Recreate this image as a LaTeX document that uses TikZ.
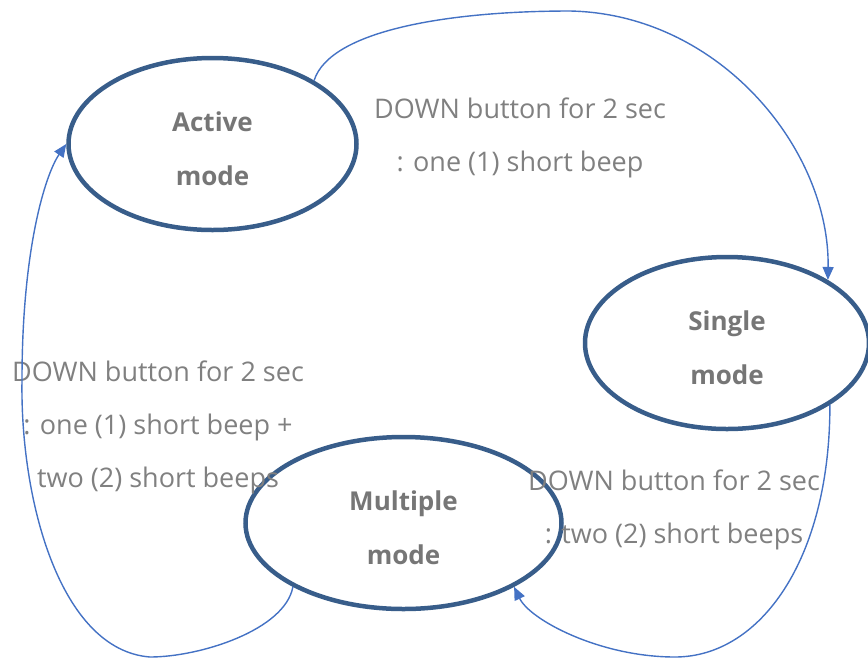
\documentclass[tikz,border=0pt]{standalone}
\usepackage{fontspec}
\setmainfont{Open Sans}
\usetikzlibrary{shapes.geometric,arrows.meta}
\definecolor{ringblue}{RGB}{56,93,138}
\definecolor{arrowblue}{RGB}{68,114,196}
\definecolor{txtgray}{RGB}{128,128,128}
\definecolor{boldgray}{RGB}{118,118,118}
\tikzset{
  state/.style={ellipse, draw=ringblue, line width=4.5pt, fill=none, inner sep=0pt},
  statetext/.style={font=\fontsize{26}{54}\selectfont\bfseries, text=boldgray, align=center, inner sep=0pt, yshift=-5pt},
  lbl/.style={font=\fontsize{27}{53}\selectfont, text=txtgray, align=center, inner sep=0pt},
  conn/.style={draw=arrowblue, line width=1.4pt, -{Triangle[length=13pt,width=11pt]}}
}
\begin{document}
\begin{tikzpicture}[x=1pt,y=-1pt]
\useasboundingbox (0,0) rectangle (868,657);
\node[state, minimum width=288pt, minimum height=172pt] (active) at (212.5,144) {};
\node[state, minimum width=284pt, minimum height=172pt] (single) at (727,343) {};
\node[state, minimum width=316pt, minimum height=172pt] (multi) at (403.5,523) {};
\node[statetext] (activet) at (active.center) {Active\\mode};
\node[statetext] (singlet) at (single.center) {Single\\mode};
\node[statetext] (multit) at (multi.center) {Multiple\\mode};

\node[lbl] (l1) at (520,138) {DOWN button for 2 sec\\: one (1) short beep};
\node[lbl] (l2) at (158,427) {DOWN button for 2 sec\\: one (1) short beep +\\two (2) short beeps};
\node[lbl] (l3) at (674,510) {DOWN button for 2 sec\\: two (2) short beeps};

\draw[conn] (active.32) .. controls (330,30) and (450,11) .. (570,11)
  .. controls (720,14) and (830,150) .. (single.32);
\draw[conn] (single.-31) .. controls (830,560) and (760,657) .. (675,657)
  .. controls (600,657) and (530,620) .. (multi.-30);
\draw[conn] (multi.210) .. controls (285,630) and (200,657) .. (150,657)
  .. controls (60,650) and (20,500) .. (22,380)
  .. controls (22,250) and (45,175) .. (active.180);
\end{tikzpicture}
\end{document}
